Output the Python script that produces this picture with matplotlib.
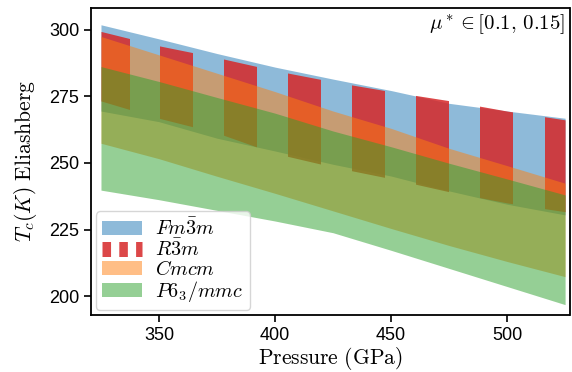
import matplotlib
matplotlib.use("Agg")
import matplotlib.pyplot as plt
from matplotlib.lines import Line2D
from matplotlib.path import Path
import numpy as np

plt.rcParams["mathtext.fontset"] = "cm"
plt.rcParams["font.family"] = ["Liberation Sans", "DejaVu Sans"]

# pressure grid (GPa)
pressure = [325, 350, 375, 400, 425, 450, 475, 500, 525]

# Tc bands (K), upper / lower edge for mu* = 0.1 / 0.15
fm3m_hi = [301.9, 296.6, 291.1, 286.0, 281.5, 277.2, 272.4, 269.5, 266.8]
fm3m_lo = [269.5, 265.5, 259.3, 254.5, 249.5, 245.1, 239.5, 234.5, 230.5]
r3m_hi = [299.4, 294.0, 289.6, 284.7, 280.5, 276.8, 273.4, 269.5, 266.2]
r3m_lo = [273.3, 266.8, 261.3, 253.6, 248.5, 244.1, 239.2, 235.0, 231.7]
cmcm_hi = [297.5, 290.6, 283.7, 276.8, 269.5, 263.0, 255.5, 249.0, 242.4]
cmcm_lo = [257.4, 251.6, 245.0, 238.6, 232.0, 225.4, 219.0, 213.0, 207.3]
p63_hi = [286.2, 280.6, 274.6, 268.7, 262.0, 256.1, 249.9, 244.0, 238.0]
p63_lo = [239.8, 236.2, 232.2, 228.2, 223.8, 217.2, 210.4, 203.6, 196.8]

# pressure windows where the R-3m band is shown (striped look)
r3m_stripes = [(324.2, 337.3), (350.4, 364.8), (378.0, 392.2), (405.5, 419.7),
               (433.2, 447.6), (460.9, 475.0), (488.5, 502.7), (516.2, 525.2)]

RED_ALPHA = 0.85

fig = plt.figure(figsize=(5.72, 3.72), dpi=100)
ax = fig.add_axes([91 / 572, 57 / 372, 478.5 / 572, 307 / 372])

ax.fill_between(pressure, fm3m_lo, fm3m_hi, color="C0", alpha=0.5, lw=0)
red = ax.fill_between(pressure, r3m_lo, r3m_hi, color="C3", alpha=RED_ALPHA, lw=0)
ax.fill_between(pressure, cmcm_lo, cmcm_hi, color="C1", alpha=0.5, lw=0)
ax.fill_between(pressure, p63_lo, p63_hi, color="C2", alpha=0.5, lw=0)

# clip the red band to vertical stripes
stripe_paths = [
    Path([(a, 0), (b, 0), (b, 1000), (a, 1000), (a, 0)], closed=True)
    for a, b in r3m_stripes
]
red.set_clip_path(Path.make_compound_path(*stripe_paths), ax.transData)

ax.set_xlim(320.7, 526.9)
ax.set_ylim(192.9, 308.2)
ax.set_xticks([350, 400, 450, 500])
ax.set_yticks([200, 225, 250, 275, 300])
ax.tick_params(labelsize=13, length=5, width=1.2)
for spine in ax.spines.values():
    spine.set_linewidth(1.3)

ax.set_xlabel(r"$\mathrm{Pressure\ (GPa)}$", fontsize=15.5, labelpad=1)
ax.set_ylabel(r"$T_c(K)\ \mathrm{Eliashberg}$", fontsize=15.5, labelpad=7)

ax.text(0.99, 0.985, r"$\mu^* \in [0.1,\, 0.15]$", transform=ax.transAxes,
        ha="right", va="top", fontsize=15)

handles = [
    plt.Rectangle((0, 0), 1, 1, color="C0", alpha=0.5, lw=0),
    Line2D([], [], color="C3", alpha=RED_ALPHA, lw=10.8,
           linestyle=(0, (0.57, 0.55)), dash_capstyle="butt"),
    plt.Rectangle((0, 0), 1, 1, color="C1", alpha=0.5, lw=0),
    plt.Rectangle((0, 0), 1, 1, color="C2", alpha=0.5, lw=0),
]
labels = [r"$Fm\bar{3}m$", r"$R\bar{3}m$", r"$Cmcm$", r"$P6_3/mmc$"]
ax.legend(handles, labels, loc="lower left", fontsize=14.5, handlelength=2.0,
          handleheight=0.7, handletextpad=0.65, labelspacing=0.0,
          borderpad=0.3, borderaxespad=0.25)

fig.savefig("out.png", dpi=100)
